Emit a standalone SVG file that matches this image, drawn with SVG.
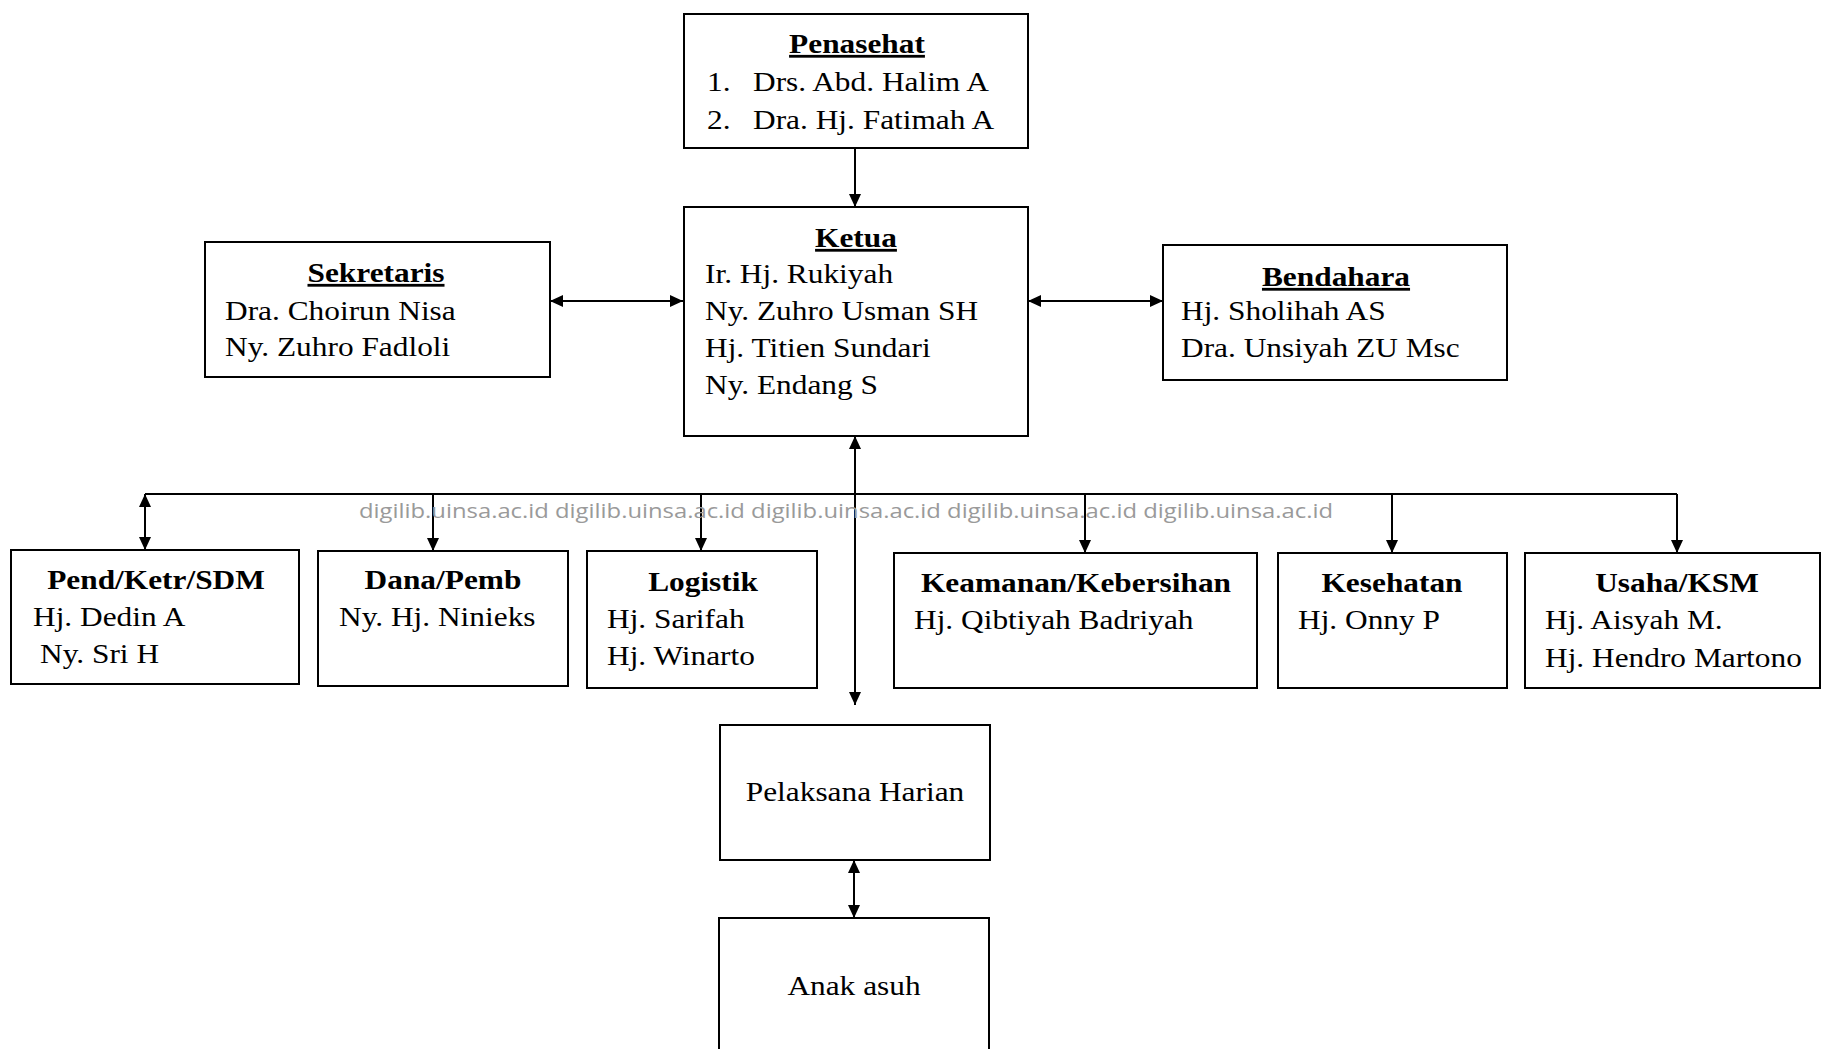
<svg xmlns="http://www.w3.org/2000/svg" width="1822" height="1049" viewBox="0 0 1822 1049">
<style>
.box{fill:#fff;stroke:#000;stroke-width:2}
.t{font-family:"Liberation Serif","Times New Roman",serif;font-size:28px;fill:#000}
.h{font-weight:bold;text-anchor:middle}
.u{text-decoration:underline}
.c{text-anchor:middle}
.ln{fill:none;stroke:#000;stroke-width:2}
.wm{font-family:"Open Sans","Liberation Sans",sans-serif;font-size:20px;fill:#9a9a9a}
</style>
<defs>
<marker id="ah" viewBox="0 0 13 12" refX="13" refY="6" markerWidth="13" markerHeight="12" orient="auto-start-reverse" markerUnits="userSpaceOnUse">
<path d="M0,0 L13,6 L0,12 z" fill="#000"/>
</marker>
</defs>
<rect width="1822" height="1049" fill="#fff"/>

<g id="connectors">
<line class="ln" x1="855" y1="149" x2="855" y2="207" marker-end="url(#ah)"/>
<line class="ln" x1="550" y1="301" x2="683" y2="301" marker-start="url(#ah)" marker-end="url(#ah)"/>
<line class="ln" x1="1028" y1="301" x2="1163" y2="301" marker-start="url(#ah)" marker-end="url(#ah)"/>
<line class="ln" x1="855" y1="436" x2="855" y2="705" marker-start="url(#ah)" marker-end="url(#ah)"/>
<line class="ln" x1="145" y1="494" x2="1677" y2="494"/>
<line class="ln" x1="145" y1="494" x2="145" y2="550" marker-start="url(#ah)" marker-end="url(#ah)"/>
<line class="ln" x1="433" y1="494" x2="433" y2="551" marker-end="url(#ah)"/>
<line class="ln" x1="701" y1="494" x2="701" y2="551" marker-end="url(#ah)"/>
<line class="ln" x1="1085" y1="494" x2="1085" y2="553" marker-end="url(#ah)"/>
<line class="ln" x1="1392" y1="494" x2="1392" y2="553" marker-end="url(#ah)"/>
<line class="ln" x1="1677" y1="494" x2="1677" y2="553" marker-end="url(#ah)"/>
<line class="ln" x1="854" y1="860" x2="854" y2="918" marker-start="url(#ah)" marker-end="url(#ah)"/>
</g>

<g id="penasehat">
<rect class="box" x="684" y="14" width="344" height="134"/>
<text class="t h u" transform="translate(857 53) scale(1.12 1)">Penasehat</text>
<text class="t" transform="translate(707 91) scale(1.12 1)">1.</text>
<text class="t" transform="translate(753 91) scale(1.12 1)">Drs. Abd. Halim A</text>
<text class="t" transform="translate(707 129) scale(1.12 1)">2.</text>
<text class="t" transform="translate(753 129) scale(1.12 1)">Dra. Hj. Fatimah A</text>
</g>

<g id="ketua">
<rect class="box" x="684" y="207" width="344" height="229"/>
<text class="t h u" transform="translate(856 247) scale(1.12 1)">Ketua</text>
<text class="t" transform="translate(705 283) scale(1.12 1)">Ir. Hj. Rukiyah</text>
<text class="t" transform="translate(705 320) scale(1.12 1)">Ny. Zuhro Usman SH</text>
<text class="t" transform="translate(705 357) scale(1.12 1)">Hj. Titien Sundari</text>
<text class="t" transform="translate(705 394) scale(1.12 1)">Ny. Endang S</text>
</g>

<g id="sekretaris">
<rect class="box" x="205" y="242" width="345" height="135"/>
<text class="t h u" transform="translate(376 282) scale(1.12 1)">Sekretaris</text>
<text class="t" transform="translate(225 320) scale(1.12 1)">Dra. Choirun Nisa</text>
<text class="t" transform="translate(225 356) scale(1.12 1)">Ny. Zuhro Fadloli</text>
</g>

<g id="bendahara">
<rect class="box" x="1163" y="245" width="344" height="135"/>
<text class="t h u" transform="translate(1336 286) scale(1.12 1)">Bendahara</text>
<text class="t" transform="translate(1181 320) scale(1.12 1)">Hj. Sholihah AS</text>
<text class="t" transform="translate(1181 357) scale(1.12 1)">Dra. Unsiyah ZU Msc</text>
</g>

<text class="wm" x="359" y="518" textLength="974" lengthAdjust="spacingAndGlyphs">digilib.uinsa.ac.id digilib.uinsa.ac.id digilib.uinsa.ac.id digilib.uinsa.ac.id digilib.uinsa.ac.id</text>

<g id="pend">
<rect class="box" x="11" y="550" width="288" height="134"/>
<text class="t h" transform="translate(156 589) scale(1.12 1)">Pend/Ketr/SDM</text>
<text class="t" transform="translate(33 626) scale(1.12 1)">Hj. Dedin A</text>
<text class="t" transform="translate(40 663) scale(1.12 1)">Ny. Sri H</text>
</g>

<g id="dana">
<rect class="box" x="318" y="551" width="250" height="135"/>
<text class="t h" transform="translate(443 589) scale(1.12 1)">Dana/Pemb</text>
<text class="t" transform="translate(339 626) scale(1.12 1)">Ny. Hj. Ninieks</text>
</g>

<g id="logistik">
<rect class="box" x="587" y="551" width="230" height="137"/>
<text class="t h" transform="translate(703 591) scale(1.12 1)">Logistik</text>
<text class="t" transform="translate(607 628) scale(1.12 1)">Hj. Sarifah</text>
<text class="t" transform="translate(607 665) scale(1.12 1)">Hj. Winarto</text>
</g>

<g id="keamanan">
<rect class="box" x="894" y="553" width="363" height="135"/>
<text class="t h" transform="translate(1076 592) scale(1.12 1)">Keamanan/Kebersihan</text>
<text class="t" transform="translate(914 629) scale(1.12 1)">Hj. Qibtiyah Badriyah</text>
</g>

<g id="kesehatan">
<rect class="box" x="1278" y="553" width="229" height="135"/>
<text class="t h" transform="translate(1392 592) scale(1.12 1)">Kesehatan</text>
<text class="t" transform="translate(1298 629) scale(1.12 1)">Hj. Onny P</text>
</g>

<g id="usaha">
<rect class="box" x="1525" y="553" width="295" height="135"/>
<text class="t h" transform="translate(1677 592) scale(1.12 1)">Usaha/KSM</text>
<text class="t" transform="translate(1545 629) scale(1.12 1)">Hj. Aisyah M.</text>
<text class="t" transform="translate(1545 667) scale(1.12 1)">Hj. Hendro Martono</text>
</g>

<g id="pelaksana">
<rect class="box" x="720" y="725" width="270" height="135"/>
<text class="t c" transform="translate(855 801) scale(1.12 1)">Pelaksana Harian</text>
</g>

<g id="anak">
<rect class="box" x="719" y="918" width="270" height="145"/>
<text class="t c" transform="translate(854 995) scale(1.12 1)">Anak asuh</text>
</g>
</svg>
